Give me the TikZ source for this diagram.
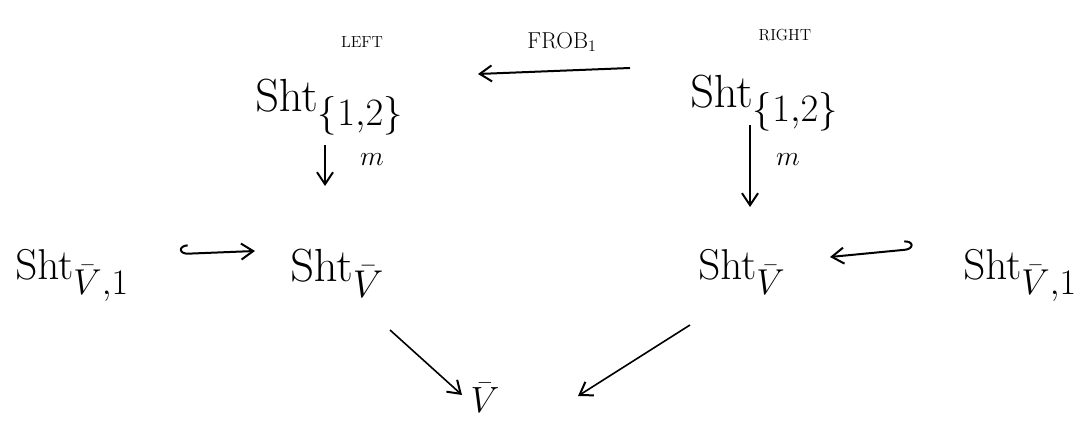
\documentclass[tikz,border=0pt]{standalone}
\usepackage{graphicx}
\usetikzlibrary{arrows.meta}
\newcommand{\bigobj}[2][1.4]{\scalebox{#1}{\Huge$#2$}}
\begin{document}
\begin{tikzpicture}[x=0.75pt,y=-0.75pt,
  obj/.style={inner sep=0pt,anchor=base west},
  tag/.style={inner sep=0pt,font=\large},
  lab/.style={inner sep=0pt,font=\huge},
  arr/.style={line width=1.5pt,-{Straight Barb[length=9pt,width=12pt,line width=1.5pt]}},
  hookarr/.style={line width=1.5pt,{Hooks[#1,arc=180,length=6pt,width=14pt,line width=1.5pt]}-{Straight Barb[length=9pt,width=12pt,line width=1.5pt]}}]
\useasboundingbox (0,0) rectangle (1078,423);
% objects
\node[obj] (A) at (255,112) {\bigobj{\mathrm{Sht}_{\{1,2\}}}};
\node[obj] (B) at (690,108) {\bigobj{\mathrm{Sht}_{\{1,2\}}}};
\node[obj] (C) at (15,280) {\bigobj[1.3]{\mathrm{Sht}_{\bar{V},1}}};
\node[obj] (D) at (290,282) {\bigobj{\mathrm{Sht}_{\bar{V}}}};
\node[obj] (E) at (698,280) {\bigobj[1.3]{\mathrm{Sht}_{\bar{V}}}};
\node[obj] (F) at (963,280) {\bigobj[1.3]{\mathrm{Sht}_{\bar{V},1}}};
\node[inner sep=0pt] (G) at (485,398) {\scalebox{1.1}{\Huge$\bar{V}$}};
% tags
\node[tag] (tl) at (362,42) {LEFT};
\node[tag] (tr) at (785,35) {RIGHT};
\node[tag,font=\LARGE] (frob) at (562,42) {FROB$_1$};
\node[lab] (m1) at (372,160) {$m$};
\node[lab] (m2) at (788,160) {$m$};
% connector end points
\coordinate (b1) at (630,68);
\coordinate (a1) at (478,74);
\coordinate (a2) at (325,145);
\coordinate (d1) at (325,186);
\coordinate (b2) at (750,125);
\coordinate (e1) at (750,207);
\coordinate (c1) at (180,254);
\coordinate (d2) at (255,251);
\coordinate (f1) at (913,249);
\coordinate (e2) at (830,257);
\coordinate (d3) at (390,330);
\coordinate (g1) at (462,395);
\coordinate (e3) at (690,325);
\coordinate (g2) at (578,396);
% connectors
\draw[arr] (b1) -- (a1);
\draw[arr] (a2) -- (d1);
\draw[arr] (b2) -- (e1);
\draw[hookarr=right] (c1) -- (d2);
\draw[hookarr=left] (f1) -- (e2);
\draw[arr,line width=1.2pt] (d3) -- (g1);
\draw[arr,line width=1.2pt] (e3) -- (g2);
\end{tikzpicture}
\end{document}
